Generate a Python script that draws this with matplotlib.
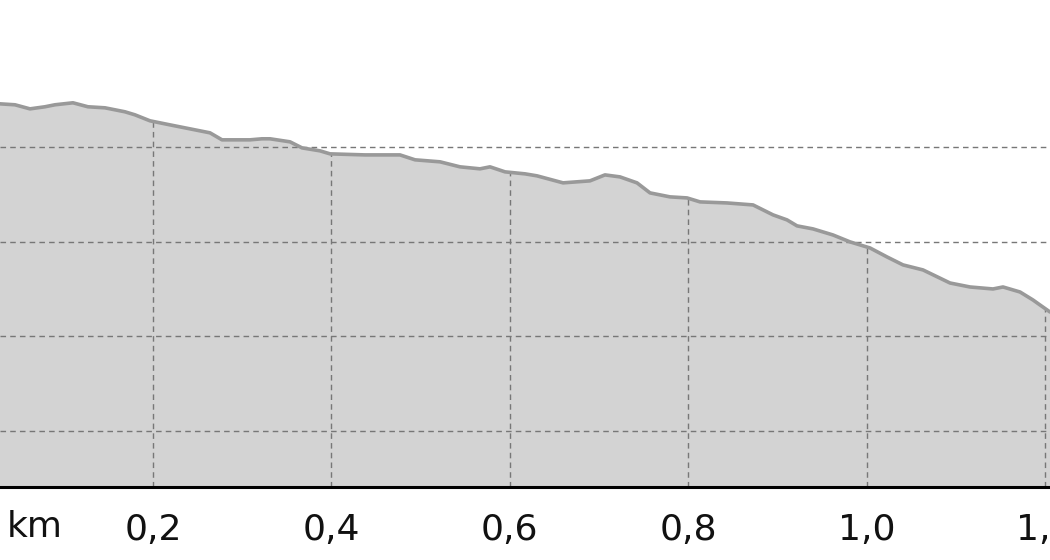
import matplotlib
matplotlib.use('Agg')
import matplotlib.pyplot as plt
from matplotlib.ticker import FixedLocator, FuncFormatter

# distance (km) and elevation (m)
dist = [0.0285, 0.0453, 0.0621, 0.0789, 0.0901, 0.1103, 0.1271, 0.1462, 0.1686, 0.1798,
        0.1966, 0.2191, 0.2415, 0.2639, 0.2774, 0.3087, 0.3222, 0.3312, 0.3536, 0.3671,
        0.3872, 0.3985, 0.4377, 0.4769, 0.4938, 0.5218, 0.5442, 0.5666, 0.5778, 0.5947,
        0.6171, 0.6305, 0.6597, 0.6899, 0.7067, 0.7235, 0.7426, 0.7572, 0.7796, 0.7987,
        0.8133, 0.8435, 0.8727, 0.8951, 0.9108, 0.9220, 0.9399, 0.9623, 0.9814, 1.0038,
        1.0229, 1.0408, 1.0632, 1.0935, 1.1159, 1.1417, 1.1529, 1.1720, 1.1865, 1.1944,
        1.2056]
elev = [144.54, 144.44, 144.01, 144.23, 144.44, 144.65, 144.23, 144.12, 143.70, 143.38,
        142.75, 142.32, 141.90, 141.48, 140.74, 140.74, 140.85, 140.85, 140.53, 139.89,
        139.58, 139.26, 139.15, 139.15, 138.63, 138.42, 137.89, 137.68, 137.89, 137.36,
        137.15, 136.94, 136.20, 136.41, 137.04, 136.83, 136.20, 135.14, 134.72, 134.61,
        134.19, 134.08, 133.87, 132.82, 132.29, 131.66, 131.34, 130.70, 129.97, 129.33,
        128.38, 127.54, 127.01, 125.63, 125.21, 125.00, 125.21, 124.68, 123.84, 123.31,
        122.57]

km_ticks = [0.2, 0.4, 0.6, 0.8, 1.0, 1.2]
elev_grid = [110, 120, 130, 140]

fig = plt.figure(figsize=(10.5, 5.6), dpi=100)
ax = fig.add_axes([0, 0.1304, 1, 0.8696])

ymin, ymax = 104.1, 155.5
fill = ax.fill_between(dist, elev, ymin, color='#d3d3d3', lw=0, zorder=1)
ax.plot(dist, elev, color='#999999', lw=2.6, zorder=3, solid_capstyle='round')

ax.set_xlim(0.0285, 1.2056)
ax.set_ylim(ymin, ymax)

ax.xaxis.set_major_locator(FixedLocator(km_ticks))
ax.yaxis.set_major_locator(FixedLocator(elev_grid))
ax.xaxis.set_major_formatter(FuncFormatter(lambda v, p: ('%.1f' % v).replace('.', ',')))

# horizontal grid over full width, vertical grid only under the profile
ax.grid(True, axis='y', color='#777777', ls=(0, (4, 3)), lw=1.0, zorder=2)
vl = ax.vlines(km_ticks, ymin, ymax, color='#777777', linestyles=[(0, (4, 3))],
               lw=1.0, zorder=2)
vl.set_clip_path(fill.get_paths()[0], ax.transData)
ax.set_axisbelow(False)

for s in ['left', 'right', 'top']:
    ax.spines[s].set_visible(False)
ax.spines['bottom'].set_linewidth(2.2)
ax.spines['bottom'].set_color('black')
ax.spines['bottom'].set_zorder(4)

ax.tick_params(axis='x', length=0, pad=19, labelsize=26, labelcolor='#111111')
ax.tick_params(axis='y', length=0, labelleft=False)

fig.text(35 / 1050, 1 - 527 / 560, 'km', fontsize=26, color='#111111',
         ha='center', va='center')

fig.savefig('out.png', dpi=100)
